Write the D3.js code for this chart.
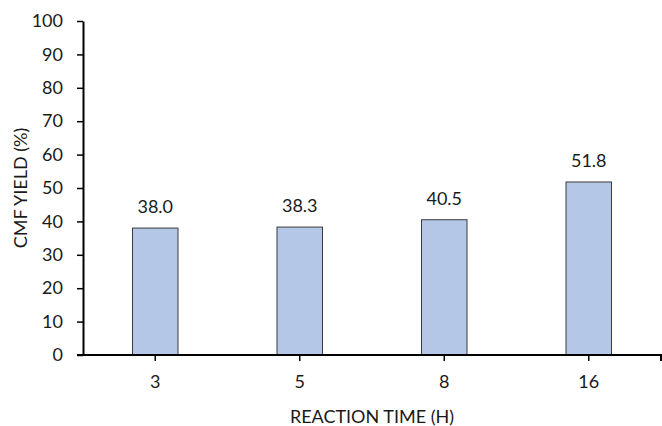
<!DOCTYPE html>
<html lang="en">
<head>
  <meta charset="UTF-8">
  <title>CMF Yield vs Reaction Time</title>
  <script src="https://d3js.org/d3.v7.min.js"></script>
  <style>
    body {
      margin: 0;
      background: #fff;
      font-family: Lato, 'Open Sans', sans-serif;
    }
    svg { display: block; }
    .tick text { font-family: Lato, sans-serif; fill: #1a1a1a; }
  </style>
</head>
<body>
  <svg width="662" height="426"></svg>

  <script>
    const times = ["3", "5", "8", "16"];
    const yields = [38.0, 38.3, 40.5, 51.8];
    const yTicks = [0, 10, 20, 30, 40, 50, 60, 70, 80, 90, 100];

    const svg = d3.select("svg"),
          plotLeft = 83, plotRight = 661, plotTop = 21, plotBottom = 355;

    const fontSize = "18px";

    const x = d3.scaleBand()
      .domain(times)
      .range([plotLeft, plotRight])
      .paddingInner(0)
      .paddingOuter(0);

    const y = d3.scaleLinear()
      .domain([0, 100])
      .range([plotBottom, plotTop]);

    const barW = 45.5;

    // y axis
    const yAxis = svg.append("g")
      .attr("transform", `translate(${plotLeft},0)`)
      .call(d3.axisLeft(y).tickValues(yTicks).tickSize(6).tickPadding(14).tickSizeOuter(0));
    yAxis.select(".domain").attr("stroke", "#000").attr("stroke-width", 2);
    yAxis.selectAll(".tick line").attr("stroke", "#000").attr("stroke-width", 1.5);
    yAxis.selectAll(".tick text").style("font-size", fontSize);

    // bars
    svg.selectAll(".bar")
      .data(yields)
      .enter().append("rect")
        .attr("class", "bar")
        .attr("x", (d, i) => x(times[i]) + x.bandwidth() / 2 - barW / 2)
        .attr("y", d => y(d))
        .attr("width", barW)
        .attr("height", d => y(0) - y(d))
        .attr("fill", "#b4c7e7")
        .attr("stroke", "#3a3a3a")
        .attr("stroke-width", 1);

    // value labels
    svg.selectAll(".val")
      .data(yields)
      .enter().append("text")
        .attr("class", "val")
        .attr("x", (d, i) => x(times[i]) + x.bandwidth() / 2)
        .attr("y", d => y(d) - 15)
        .attr("text-anchor", "middle")
        .style("font-size", fontSize)
        .attr("fill", "#1a1a1a")
        .text(d => d.toFixed(1));

    // x axis
    const xAxis = svg.append("g")
      .attr("transform", `translate(0,${plotBottom})`)
      .call(d3.axisBottom(x).tickSize(6).tickPadding(14).tickSizeOuter(6));
    xAxis.select(".domain")
      .attr("stroke", "#000").attr("stroke-width", 2)
      .attr("d", `M${plotLeft - 6},0H${plotRight}V6`);
    xAxis.selectAll(".tick line").attr("stroke", "#000").attr("stroke-width", 1.5);
    xAxis.selectAll(".tick text").style("font-size", fontSize);

    // axis titles
    svg.append("text")
      .attr("x", (plotLeft + plotRight) / 2)
      .attr("y", 423)
      .attr("text-anchor", "middle")
      .style("font-size", fontSize)
      .attr("fill", "#1a1a1a")
      .text("REACTION TIME (H)");

    svg.append("text")
      .attr("transform", `translate(27,${(plotTop + plotBottom) / 2}) rotate(-90)`)
      .attr("text-anchor", "middle")
      .style("font-size", fontSize)
      .attr("fill", "#1a1a1a")
      .text("CMF YIELD (%)");
  </script>
</body>
</html>
